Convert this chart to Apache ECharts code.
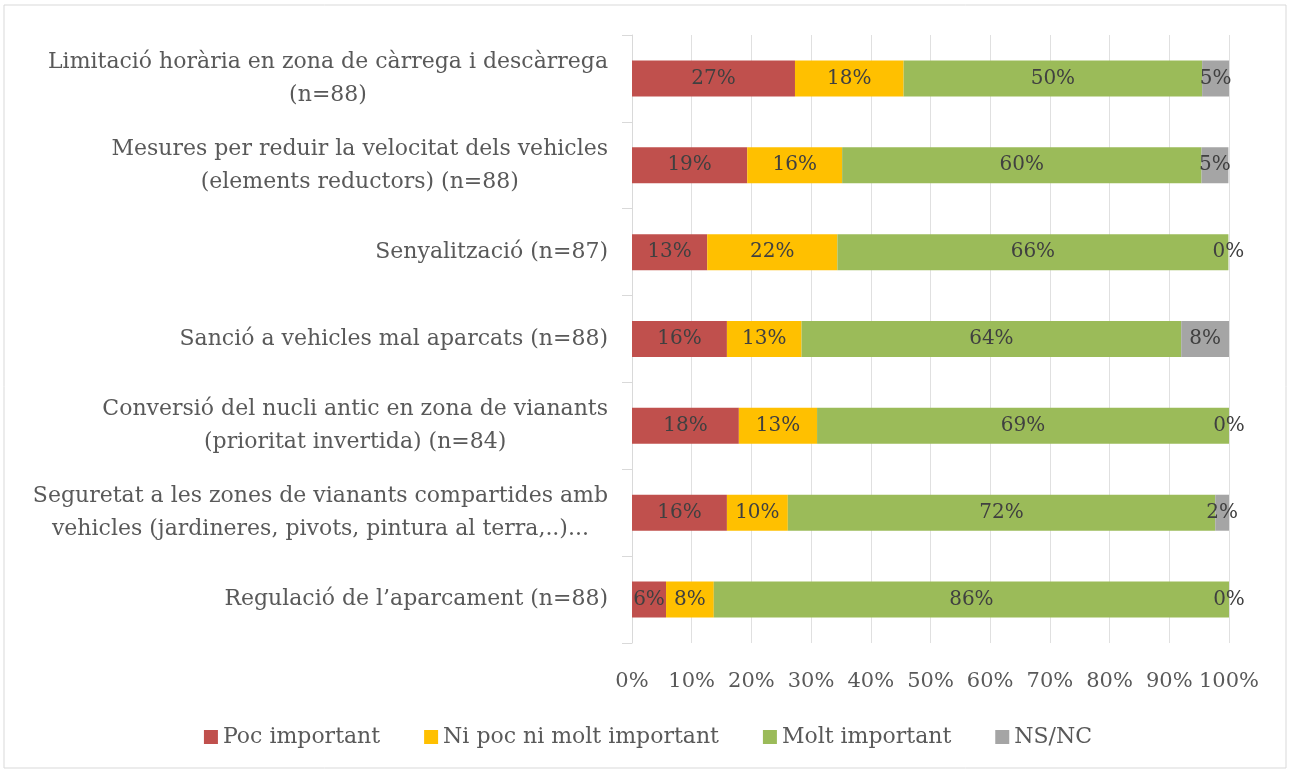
<!DOCTYPE html>
<html>
<head>
<meta charset="utf-8">
<script src="https://cdn.jsdelivr.net/npm/echarts@6/dist/echarts.min.js"></script>
<style>
  html, body { margin: 0; padding: 0; background: #fff; }
  #chart { width: 1296px; height: 773px; }
</style>
</head>
<body>
<div id="chart"></div>
<script>
// categories, top to bottom
var categories = [
    'Limitació horària en zona de càrrega i descàrrega\n(n=88)',
    'Mesures per reduir la velocitat dels vehicles\n(elements reductors) (n=88)',
    'Senyalització (n=87)',
    'Sanció a vehicles mal aparcats (n=88)',
    'Conversió del nucli antic en zona de vianants\n(prioritat invertida) (n=84)',
    'Seguretat a les zones de vianants compartides amb\nvehicles (jardineres, pivots, pintura al terra,..)...',
    'Regulació de l\u2019aparcament (n=88)'
];
var seriesNames = ['Poc important', 'Ni poc ni molt important', 'Molt important', 'NS/NC'];
var pocImportant = [27.3, 19.3, 12.6, 15.9, 17.9, 15.9, 5.7];
var niPocNiMolt  = [18.2, 15.9, 21.8, 12.5, 13.1, 10.2, 8.0];
var moltImportant = [50.0, 60.2, 65.5, 63.6, 69.0, 71.6, 86.3];
var nsnc = [4.5, 4.5, 0, 8.0, 0, 2.3, 0];
var xTicks = [0, 10, 20, 30, 40, 50, 60, 70, 80, 90, 100];

var colors = ['#c0504d', '#ffc000', '#9bbb59', '#a5a5a5'];
var font = 'DejaVu Serif';

var chart = echarts.init(document.getElementById('chart'));

function barSeries(name, data){
    return {
        name: name,
        type: 'bar',
        stack: 'total',
        barWidth: 36,
        data: data,
        label: {
            show: true,
            position: 'inside',
            color: '#404040',
            fontFamily: font,
            fontSize: 20,
            formatter: function(p){ return Math.round(p.value) + '%'; }
        },
        emphasis: { disabled: true }
    };
}

var option = {
    animation: false,
    color: colors,
    textStyle: { fontFamily: font },
    graphic: [{
        type: 'rect',
        shape: { x: 4, y: 5, width: 1282, height: 763 },
        style: { fill: 'none', stroke: '#d9d9d9', lineWidth: 1 },
        silent: true
    }],
    grid: { left: 632, right: 67, top: 35, bottom: 130, containLabel: false },
    legend: {
        bottom: 20,
        left: 'center',
        itemWidth: 14,
        itemHeight: 14,
        itemGap: 44,
        icon: 'rect',
        textStyle: { color: '#595959', fontSize: 22, fontFamily: font },
        data: seriesNames
    },
    xAxis: {
        type: 'value',
        min: xTicks[0],
        max: xTicks[xTicks.length - 1],
        interval: 10,
        axisLine: { show: false },
        axisTick: { show: false },
        splitLine: { lineStyle: { color: '#e0e0e0' } },
        axisLabel: {
            color: '#595959',
            fontSize: 21,
            fontFamily: font,
            margin: 28,
            formatter: '{value}%'
        }
    },
    yAxis: {
        type: 'category',
        inverse: true,
        data: categories,
        axisLine: { lineStyle: { color: '#d9d9d9' } },
        axisTick: { show: true, length: 10, lineStyle: { color: '#d9d9d9' } },
        axisLabel: {
            color: '#595959',
            fontSize: 22,
            fontFamily: font,
            margin: 24,
            lineHeight: 33,
            formatter: function(v){
                return v.split('\n').map(function(l){ return '{c|' + l + '}'; }).join('\n');
            },
            rich: { c: { align: 'center', fontSize: 22, lineHeight: 33, color: '#595959', fontFamily: font } }
        }
    },
    series: [
        barSeries(seriesNames[0], pocImportant),
        barSeries(seriesNames[1], niPocNiMolt),
        barSeries(seriesNames[2], moltImportant),
        barSeries(seriesNames[3], nsnc)
    ]
};
chart.setOption(option);
</script>
</body>
</html>
